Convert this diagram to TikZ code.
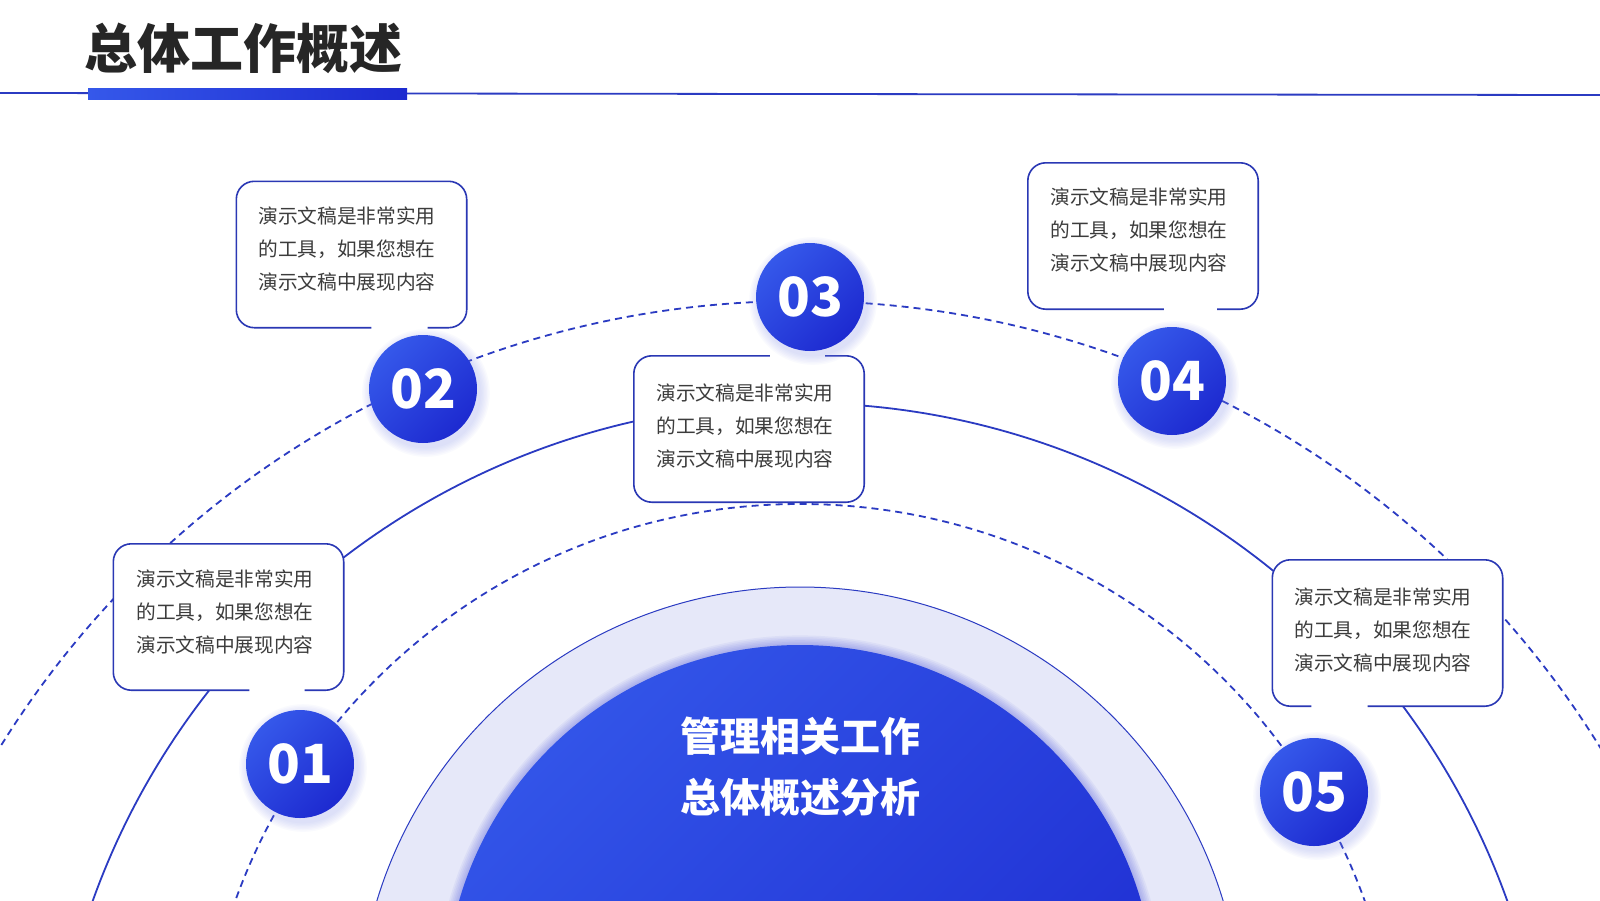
\documentclass[tikz,border=0pt]{standalone}
\usepackage{fontspec}
\newfontfamily\cjk{Noto Sans CJK SC}
\usetikzlibrary{calc}
\definecolor{lineblue}{HTML}{2B3BC2}
\definecolor{boxblue}{HTML}{2A38B4}
\definecolor{cLight}{HTML}{3558EA}
\definecolor{cDark}{HTML}{1D2AD0}
\definecolor{bigLight}{HTML}{3254E8}
\definecolor{bigDark}{HTML}{1C28CF}
\definecolor{ringfill}{HTML}{E6E8F9}
\definecolor{txtgray}{HTML}{3C3C3C}
\definecolor{titlegray}{HTML}{262626}
\definecolor{glow}{HTML}{7F8CEE}
\begin{document}
\begin{tikzpicture}[x=1pt,y=-1pt,
  arcline/.style={draw=lineblue, line width=1.8pt},
  dasharc/.style={arcline, dash pattern=on 7pt off 5pt},
  box/.style={rectangle, rounded corners=18pt, fill=white, minimum width=230pt, minimum height=146pt, inner sep=0pt},
  boxborder/.style={draw=boxblue, line width=1.6pt, rounded corners=18pt},
  boxtext/.style={font=\cjk\fontsize{19.7}{33}\selectfont, text=txtgray, align=left, inner sep=0pt},
  numc/.style={circle, minimum size=108pt, inner sep=0pt, top color=cLight, bottom color=cDark, shading angle=45, text=white, font=\cjk\bfseries\fontsize{54}{54}\selectfont},
  glowring/.style={fill=glow, opacity=0.04},
]
\useasboundingbox (0,0) rectangle (1600,900);
\clip (0,0) rectangle (1600,900);
\fill[white] (0,0) rectangle (1600,900);

% title
\node[anchor=west, inner sep=0pt, text=titlegray, font=\cjk\bfseries\fontsize{53}{53}\selectfont] (title) at (84,48) {总体工作概述};
\coordinate (hl) at (0,93);
\coordinate (hr) at (1600,95);
\draw[lineblue, line width=1.8pt] (hl) -- (hr);
\shade[left color=cLight, right color=cDark] (88,88) rectangle (407,99);

% arcs
\draw[dasharc] (800,1241) circle[radius=940pt];
\draw[arcline] (800,1154) circle[radius=751pt];
\draw[dasharc] (800,1104) circle[radius=600pt];

% centre
\filldraw[fill=ringfill, draw=lineblue, line width=1pt] (800,1029) circle[radius=442pt];
\foreach \k in {1,...,6} \fill[fill=bigDark, opacity=0.05] (800,1000) circle[radius={355pt+\k*1.6pt}];
\shade[top color=bigLight, bottom color=bigDark, shading angle=45] (800,1000) circle[radius=355pt];
\node[font=\cjk\bfseries\fontsize{40}{61}\selectfont, text=white, align=center, inner sep=0pt] (ctext) at (800,767) {管理相关工作\\总体概述分析};

% boxes
\node[box] (b1) at (228.5,617) {};
\node[box] (b2) at (351.5,254.5) {};
\node[box] (b3) at (749,429) {};
\node[box] (b4) at (1143,236) {};
\node[box] (b5) at (1387.5,633) {};

\draw[boxborder] ([xshift=136pt]b1.south west) -- (b1.south west) -- (b1.north west) -- (b1.north east) -- (b1.south east) -- ([xshift=-39pt]b1.south east);
\draw[boxborder] ([xshift=135pt]b2.south west) -- (b2.south west) -- (b2.north west) -- (b2.north east) -- (b2.south east) -- ([xshift=-39pt]b2.south east);
\draw[boxborder] ([xshift=-39pt]b3.north east) -- (b3.north east) -- (b3.south east) -- (b3.south west) -- (b3.north west) -- ([xshift=136pt]b3.north west);
\draw[boxborder] ([xshift=136pt]b4.south west) -- (b4.south west) -- (b4.north west) -- (b4.north east) -- (b4.south east) -- ([xshift=-41pt]b4.south east);
\draw[boxborder] ([xshift=39pt]b5.south west) -- (b5.south west) -- (b5.north west) -- (b5.north east) -- (b5.south east) -- ([xshift=-135pt]b5.south east);

\node[boxtext] (t1) at ([xshift=-3.5pt,yshift=5pt]b1.center) {演示文稿是非常实用\\的工具，如果您想在\\演示文稿中展现内容};
\node[boxtext] (t2) at ([xshift=-4.5pt,yshift=6pt]b2.center) {演示文稿是非常实用\\的工具，如果您想在\\演示文稿中展现内容};
\node[boxtext] (t3) at ([xshift=-4pt,yshift=3pt]b3.center) {演示文稿是非常实用\\的工具，如果您想在\\演示文稿中展现内容};
\node[boxtext] (t4) at ([xshift=-4pt,yshift=6pt]b4.center) {演示文稿是非常实用\\的工具，如果您想在\\演示文稿中展现内容};
\node[boxtext] (t5) at ([xshift=-4.5pt,yshift=3pt]b5.center) {演示文稿是非常实用\\的工具，如果您想在\\演示文稿中展现内容};

% number circles
\coordinate (p1) at (300,764);
\coordinate (p2) at (423,389);
\coordinate (p3) at (810,297);
\coordinate (p4) at (1172,381);
\coordinate (p5) at (1314,792);
\foreach \p in {p1,p2,p3,p4,p5}{
  \foreach \k in {1,...,7} \fill[glowring] ($(\p)+(3,4)$) circle[radius={54pt+\k*1.4pt}];
}
\node[numc] (c1) at (p1) {01};
\node[numc] (c2) at (p2) {02};
\node[numc] (c3) at (p3) {03};
\node[numc] (c4) at (p4) {04};
\node[numc] (c5) at (p5) {05};
\end{tikzpicture}
\end{document}
